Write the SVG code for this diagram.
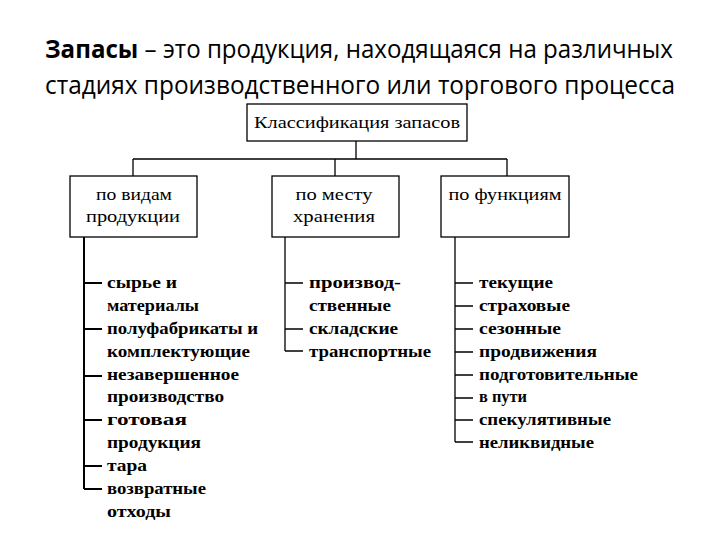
<svg xmlns="http://www.w3.org/2000/svg" width="720" height="540" viewBox="0 0 720 540">
<style>
.title{font-family:"Open Sans","Liberation Sans",sans-serif;font-size:25px;fill:#000}
.box{fill:#fff;stroke:#000;stroke-width:1.3}
.bt{font-family:"Liberation Serif",serif;font-size:17px;fill:#000;text-anchor:middle}
.it{font-family:"Liberation Serif",serif;font-size:16px;font-weight:bold;fill:#000}
.ln{stroke:#000;stroke-width:1.3;fill:none}
.lb{stroke:#000;stroke-width:2;fill:none}
</style>
<rect width="720" height="540" fill="#fff"/>
<g id="title">
<text class="title" x="45" y="58" textLength="628" lengthAdjust="spacingAndGlyphs"><tspan font-weight="bold">Запасы</tspan> – это продукция, находящаяся на различных</text>
<text class="title" x="45" y="94" textLength="630" lengthAdjust="spacingAndGlyphs">стадиях  производственного или торгового процесса</text>
</g>
<g id="connectors">
<path class="ln" d="M356 141V159M133 159H507M133 159V176M335 159V176M507 159V176"/>
<path class="lb" d="M84 237V489M84 283H102M84 329H102M84 376H102M84 420H102M84 466H102M84 489H102"/>
<path class="ln" d="M285 237V351M285 283H303M285 329H303M285 351H303"/>
<path class="ln" d="M455 237V442M455 283H473M455 306H473M455 329H473M455 352H473M455 375H473M455 398H473M455 420H473M455 442H473"/>
</g>
<g id="root">
<rect class="box" x="247" y="104" width="220" height="37"/>
<text class="bt" x="357" y="128" textLength="206" lengthAdjust="spacingAndGlyphs">Классификация запасов</text>
</g>
<g id="n-vid">
<rect class="box" x="70" y="176" width="127" height="61"/>
<text class="bt" x="134" y="200" textLength="76" lengthAdjust="spacingAndGlyphs">по видам</text>
<text class="bt" x="133" y="222" textLength="94" lengthAdjust="spacingAndGlyphs">продукции</text>
</g>
<g id="n-mesto">
<rect class="box" x="272" y="176" width="127" height="61"/>
<text class="bt" x="334" y="200" textLength="77" lengthAdjust="spacingAndGlyphs">по месту</text>
<text class="bt" x="334" y="222" textLength="82" lengthAdjust="spacingAndGlyphs">хранения</text>
</g>
<g id="n-func">
<rect class="box" x="441" y="176" width="128" height="61"/>
<text class="bt" x="505" y="200" textLength="113" lengthAdjust="spacingAndGlyphs">по функциям</text>
</g>
<g id="list-vid">
<text class="it" x="107" y="288" textLength="70" lengthAdjust="spacingAndGlyphs">сырье и</text>
<text class="it" x="107" y="311" textLength="92" lengthAdjust="spacingAndGlyphs">материалы</text>
<text class="it" x="107" y="334" textLength="151" lengthAdjust="spacingAndGlyphs">полуфабрикаты и</text>
<text class="it" x="107" y="357" textLength="143" lengthAdjust="spacingAndGlyphs">комплектующие</text>
<text class="it" x="107" y="380" textLength="132" lengthAdjust="spacingAndGlyphs">незавершенное</text>
<text class="it" x="107" y="402" textLength="117" lengthAdjust="spacingAndGlyphs">производство</text>
<text class="it" x="107" y="425" textLength="80" lengthAdjust="spacingAndGlyphs">готовая</text>
<text class="it" x="107" y="448" textLength="94" lengthAdjust="spacingAndGlyphs">продукция</text>
<text class="it" x="107" y="471" textLength="40" lengthAdjust="spacingAndGlyphs">тара</text>
<text class="it" x="107" y="494" textLength="99" lengthAdjust="spacingAndGlyphs">возвратные</text>
<text class="it" x="107" y="517" textLength="64" lengthAdjust="spacingAndGlyphs">отходы</text>
</g>
<g id="list-mesto">
<text class="it" x="309" y="288" textLength="92" lengthAdjust="spacingAndGlyphs">производ-</text>
<text class="it" x="309" y="311" textLength="82" lengthAdjust="spacingAndGlyphs">ственные</text>
<text class="it" x="309" y="334" textLength="89" lengthAdjust="spacingAndGlyphs">складские</text>
<text class="it" x="309" y="357" textLength="122" lengthAdjust="spacingAndGlyphs">транспортные</text>
</g>
<g id="list-func">
<text class="it" x="479" y="288" textLength="74" lengthAdjust="spacingAndGlyphs">текущие</text>
<text class="it" x="479" y="311" textLength="91" lengthAdjust="spacingAndGlyphs">страховые</text>
<text class="it" x="479" y="334" textLength="82" lengthAdjust="spacingAndGlyphs">сезонные</text>
<text class="it" x="479" y="357" textLength="118" lengthAdjust="spacingAndGlyphs">продвижения</text>
<text class="it" x="479" y="380" textLength="159" lengthAdjust="spacingAndGlyphs">подготовительные</text>
<text class="it" x="479" y="402" textLength="48" lengthAdjust="spacingAndGlyphs">в пути</text>
<text class="it" x="479" y="425" textLength="132" lengthAdjust="spacingAndGlyphs">спекулятивные</text>
<text class="it" x="479" y="448" textLength="115" lengthAdjust="spacingAndGlyphs">неликвидные</text>
</g>
</svg>
